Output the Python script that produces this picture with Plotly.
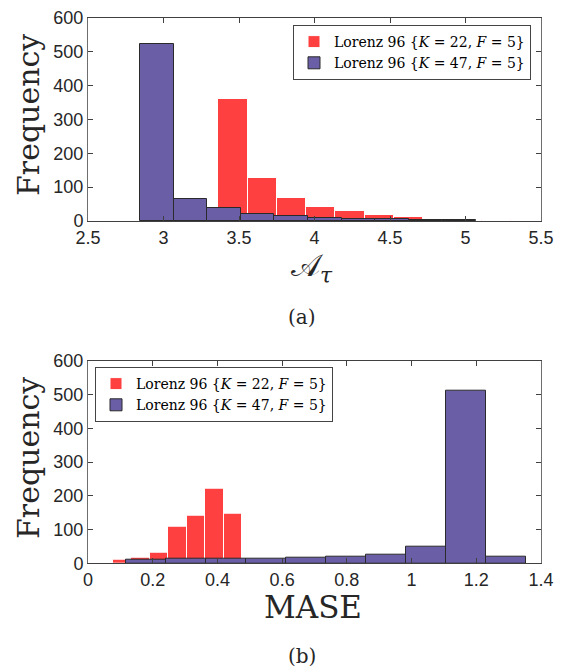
import plotly.graph_objects as go

# ---------------- data ----------------
a_red_edges = [3.363, 3.557, 3.751, 3.945, 4.139, 4.333, 4.527, 4.721, 4.915, 5.109, 5.303]
a_red_counts = [360, 127, 68, 42, 29, 17, 11, 6, 2, 3]
a_blue_edges = [2.844, 3.067, 3.289, 3.512, 3.734, 3.957, 4.180, 4.402, 4.625, 4.847, 5.070]
a_blue_counts = [523, 65, 37, 20, 14, 10, 7, 5, 4, 3]

b_red_edges = [0.077, 0.134, 0.191, 0.248, 0.305, 0.362, 0.419, 0.476]
b_red_counts = [10, 16, 30, 108, 140, 222, 146]
b_blue_edges = [0.117, 0.241, 0.365, 0.489, 0.612, 0.736, 0.860, 0.983, 1.107, 1.231, 1.354]
b_blue_counts = [10, 15, 15, 13, 17, 21, 26, 48, 510, 21]

name_red = "Lorenz 96 {<i>K</i> = 22, <i>F</i> = 5}"
name_blue = "Lorenz 96 {<i>K</i> = 47, <i>F</i> = 5}"

RED = "#ff4040"
BLUE = "#6a5fa6"
AX = "#262626"
LINE = "#404040"
W, H = 561, 671


def px(x):   # page pixel -> paper fraction (x)
    return x / W


def py(y):   # page pixel -> paper fraction (y)
    return 1 - y / H


def centers(edges):
    return [(edges[i] + edges[i + 1]) / 2 for i in range(len(edges) - 1)]


def widths(edges):
    return [edges[i + 1] - edges[i] for i in range(len(edges) - 1)]


fig = go.Figure()

fig.add_trace(go.Bar(x=centers(a_red_edges), y=a_red_counts, width=widths(a_red_edges),
                     marker=dict(color=RED, line=dict(color="white", width=1)),
                     name=name_red, xaxis="x", yaxis="y", legend="legend"))
fig.add_trace(go.Bar(x=centers(a_blue_edges), y=a_blue_counts, width=widths(a_blue_edges),
                     marker=dict(color=BLUE, line=dict(color="#2a2a2a", width=1)),
                     name=name_blue, xaxis="x", yaxis="y", legend="legend"))
fig.add_trace(go.Bar(x=centers(b_red_edges), y=b_red_counts, width=widths(b_red_edges),
                     marker=dict(color=RED, line=dict(color="white", width=1)),
                     name=name_red, xaxis="x2", yaxis="y2", legend="legend2"))
fig.add_trace(go.Bar(x=centers(b_blue_edges), y=b_blue_counts, width=widths(b_blue_edges),
                     marker=dict(color=BLUE, line=dict(color="#2a2a2a", width=1)),
                     name=name_blue, xaxis="x2", yaxis="y2", legend="legend2"))

tickfont = dict(family="Liberation Sans, Arial, sans-serif", size=18, color=AX)
common = dict(showline=True, linewidth=1, mirror="ticks", ticks="inside",
              ticklen=5, showgrid=False, zeroline=False, tickfont=tickfont,
              automargin=False, ticklabeloverflow="allow")
xstyle = dict(linecolor=LINE, tickcolor=LINE, **common)
ystyle = dict(linecolor="#6e6e6e", tickcolor=LINE, **common)

xd = [px(88), px(541)]
legfont = dict(family="DejaVu Serif, serif", size=14, color="black")
fig.update_layout(
    width=W, height=H, margin=dict(l=0, r=0, t=0, b=0, autoexpand=False),
    paper_bgcolor="white", plot_bgcolor="white",
    barmode="overlay", bargap=0,
    xaxis=dict(domain=xd, range=[2.5, 5.5], dtick=0.5, tick0=2.5, anchor="y", **xstyle),
    yaxis=dict(domain=[py(221), py(18)], range=[0, 600], dtick=100, anchor="x", **ystyle),
    xaxis2=dict(domain=xd, range=[0, 1.4], dtick=0.2, tick0=0, anchor="y2", **xstyle),
    yaxis2=dict(domain=[py(563.3), py(360.7)], range=[0, 600], dtick=100, anchor="x2", **ystyle),
    legend=dict(x=px(531), y=py(25), xanchor="right", yanchor="top",
                bgcolor="white", bordercolor="#444444", borderwidth=1,
                font=legfont, tracegroupgap=0),
    legend2=dict(x=px(95), y=py(367), xanchor="left", yanchor="top",
                 bgcolor="white", bordercolor="#444444", borderwidth=1,
                 font=legfont, tracegroupgap=0),
    showlegend=True,
)

serif = "DejaVu Serif, Liberation Serif, serif"
ann = [
    dict(text="Frequency", x=px(28), y=py(115), textangle=-90, font=dict(family=serif, size=30, color=AX)),
    dict(text="Frequency", x=px(28), y=py(458), textangle=-90, font=dict(family=serif, size=30, color=AX)),
    dict(text="𝒜<sub><i>τ</i></sub>", x=px(312), y=py(267), font=dict(family=serif, size=31, color=AX)),
    dict(text="(a)", x=px(302), y=py(317), font=dict(family=serif, size=20, color=AX)),
    dict(text="MASE", x=px(313), y=py(607), font=dict(family=serif, size=31, color=AX)),
    dict(text="(b)", x=px(302), y=py(656), font=dict(family=serif, size=20, color=AX)),
]
for a in ann:
    a.update(xref="paper", yref="paper", showarrow=False, xanchor="center", yanchor="middle")
fig.update_layout(annotations=ann)

fig.write_html("out.html", config={"displayModeBar": False},
               post_script="document.body.style.margin='0';document.body.style.overflow='hidden';")
